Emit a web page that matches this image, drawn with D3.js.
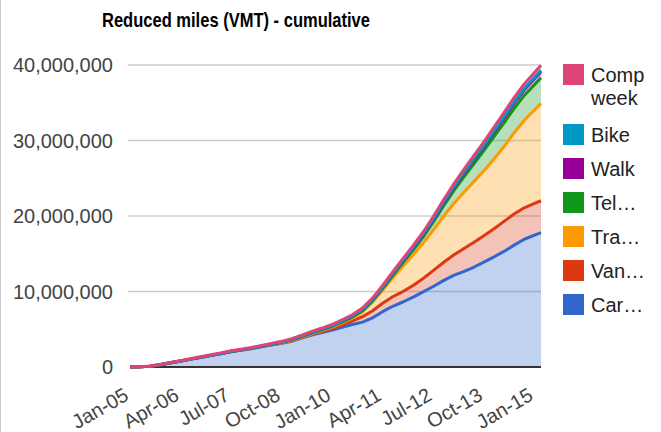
<!DOCTYPE html>
<html>
<head>
<meta charset="utf-8">
<script src="https://cdn.jsdelivr.net/npm/d3@7"></script>
<style>
  body { margin: 0; background: #fff; }
  svg { display: block; }
  text { font-family: Arial, "Liberation Sans", Helvetica, sans-serif; }
</style>
</head>
<body>
<svg id="chart" width="661" height="432"></svg>
<script>
// Quarterly cumulative reduced vehicle miles, Jan-05 .. Mar-15
const periods = [
  "Jan-05","Apr-05","Jul-05","Oct-05","Jan-06","Apr-06","Jul-06","Oct-06",
  "Jan-07","Apr-07","Jul-07","Oct-07","Jan-08","Apr-08","Jul-08","Oct-08",
  "Jan-09","Apr-09","Jul-09","Oct-09","Jan-10","Apr-10","Jul-10","Oct-10",
  "Jan-11","Apr-11","Jul-11","Oct-11","Jan-12","Apr-12","Jul-12","Oct-12",
  "Jan-13","Apr-13","Jul-13","Oct-13","Jan-14","Apr-14","Jul-14","Oct-14",
  "Jan-15","Mar-15"
];

// values in millions of miles
const carpool = [0, 0.02, 0.11, 0.29, 0.54, 0.77, 1.02, 1.26, 1.51, 1.76, 2.01, 2.22, 2.43, 2.67, 2.90,
  3.14, 3.42, 3.82, 4.23, 4.56, 4.88, 5.26, 5.62, 5.94, 6.51, 7.33, 8.04, 8.61, 9.26, 9.96, 10.66,
  11.44, 12.14, 12.63, 13.21, 13.9, 14.59, 15.31, 16.14, 16.92, 17.47, 17.8];
const vanpool = [0, 0, 0, 0.01, 0.01, 0.02, 0.02, 0.02, 0.03, 0.03, 0.03, 0.04, 0.04, 0.04, 0.05,
  0.05, 0.06, 0.07, 0.09, 0.13, 0.22, 0.32, 0.45, 0.72, 0.94, 1.12, 1.26, 1.38, 1.53, 1.76, 2.1,
  2.4, 2.69, 3.04, 3.29, 3.49, 3.72, 3.98, 4.12, 4.17, 4.2, 4.22];
const transit = [0, 0, 0, 0, 0, 0, 0, 0, 0, 0, 0.01, 0.01, 0.02, 0.02, 0.03,
  0.03, 0.04, 0.05, 0.085, 0.13, 0.18, 0.27, 0.4, 0.64, 1.15, 1.7, 2.47, 3.35, 4.08, 4.71, 5.36,
  6.09, 6.79, 7.42, 8.02, 8.6, 9.25, 9.91, 10.74, 11.59, 12.37, 12.9];
const telework = [0, 0, 0, 0, 0, 0, 0, 0, 0, 0, 0, 0, 0, 0.01, 0.03,
  0.05, 0.08, 0.09, 0.1, 0.11, 0.12, 0.13, 0.14, 0.16, 0.19, 0.25, 0.35, 0.49, 0.62, 0.8, 1.05,
  1.37, 1.7, 2.03, 2.36, 2.66, 2.95, 3.14, 3.23, 3.29, 3.35, 3.39];
const walk = [0, 0, 0, 0, 0, 0, 0, 0, 0, 0, 0, 0, 0.01, 0.01, 0.02,
  0.02, 0.03, 0.04, 0.05, 0.06, 0.07, 0.08, 0.1, 0.11, 0.13, 0.15, 0.18, 0.21, 0.24, 0.28, 0.32,
  0.37, 0.41, 0.46, 0.51, 0.56, 0.61, 0.66, 0.7, 0.74, 0.78, 0.8];
const bike = [0, 0, 0, 0, 0, 0, 0, 0, 0, 0, 0, 0, 0, 0, 0,
  0, 0.01, 0.01, 0.02, 0.02, 0.02, 0.03, 0.03, 0.04, 0.04, 0.05, 0.06, 0.06, 0.07, 0.08, 0.09,
  0.1, 0.11, 0.12, 0.13, 0.14, 0.15, 0.16, 0.17, 0.18, 0.19, 0.2];
const compWeek = [0, 0.01, 0.02, 0.03, 0.04, 0.05, 0.06, 0.07, 0.08, 0.08, 0.09, 0.09, 0.09, 0.1, 0.1,
  0.11, 0.12, 0.13, 0.14, 0.15, 0.16, 0.17, 0.18, 0.19, 0.2, 0.21, 0.23, 0.25, 0.27, 0.29, 0.31,
  0.34, 0.37, 0.4, 0.43, 0.46, 0.49, 0.53, 0.57, 0.61, 0.65, 0.66];

const seriesKeys   = ["car", "van", "transit", "telework", "walk", "bike", "comp"];
const seriesLabels = [["Car…"], ["Van…"], ["Tra…"], ["Tel…"], ["Walk"], ["Bike"], ["Comp", "week"]];
const seriesColors = ["#3366cc", "#dc3912", "#ff9900", "#109618", "#990099", "#0099c6", "#dd4477"];
const seriesValues = [carpool, vanpool, transit, telework, walk, bike, compWeek];

const xTickLabels = ["Jan-05","Apr-06","Jul-07","Oct-08","Jan-10","Apr-11","Jul-12","Oct-13","Jan-15"];
const yTicks = [0, 10000000, 20000000, 30000000, 40000000];

const parse = d3.timeParse("%b-%y");
const rows = periods.map((p, i) => {
  const r = { date: parse(p) };
  seriesKeys.forEach((k, j) => { r[k] = seriesValues[j][i] * 1e6; });
  return r;
});

const svg = d3.select("#chart");
const plot = { left: 130, right: 541, top: 65, bottom: 367 };

const x = d3.scaleTime()
  .domain([parse(periods[0]), parse(periods[periods.length - 1])])
  .range([plot.left, plot.right]);
const y = d3.scaleLinear().domain([0, 40000000]).range([plot.bottom, plot.top]);

// thin frame on the left edge
svg.append("line").attr("x1", 0.5).attr("x2", 0.5).attr("y1", 0).attr("y2", 432)
  .attr("stroke", "#cccccc").attr("stroke-width", 1);

// title
svg.append("text")
  .attr("x", 102).attr("y", 27)
  .attr("font-size", 21).attr("font-weight", "bold").attr("fill", "#000")
  .attr("textLength", 268).attr("lengthAdjust", "spacingAndGlyphs")
  .text("Reduced miles (VMT) - cumulative");

// gridlines and y labels
const fmt = d3.format(",");
const yAxis = svg.append("g");
yAxis.selectAll("line.grid").data(yTicks.filter(d => d > 0)).join("line")
  .attr("class", "grid")
  .attr("x1", plot.left - 2).attr("x2", plot.right)
  .attr("y1", d => y(d)).attr("y2", d => y(d))
  .attr("stroke", "#cccccc").attr("stroke-width", 1.5);
yAxis.selectAll("text").data(yTicks).join("text")
  .attr("x", 113).attr("y", d => y(d)).attr("dy", "0.36em")
  .attr("text-anchor", "end").attr("font-size", 20).attr("fill", "#444")
  .text(d => fmt(d));

// stacked areas
const stack = d3.stack().keys(seriesKeys);
const layers = stack(rows);

const area = d3.area()
  .x(d => x(d.data.date)).y0(d => y(d[0])).y1(d => y(d[1]));
const line = d3.line()
  .x(d => x(d.data.date)).y(d => y(d[1]));

svg.append("g").selectAll("path").data(layers).join("path")
  .attr("d", area)
  .attr("fill", (d, i) => seriesColors[i]).attr("fill-opacity", 0.3);

// baseline
svg.append("line")
  .attr("x1", plot.left).attr("x2", plot.right)
  .attr("y1", y(0)).attr("y2", y(0))
  .attr("stroke", "#333333").attr("stroke-width", 2);

svg.append("g").selectAll("path").data(layers).join("path")
  .attr("d", line)
  .attr("fill", "none")
  .attr("stroke", (d, i) => seriesColors[i])
  .attr("stroke-width", 3)
  .attr("stroke-linejoin", "round");

// x axis labels, slanted
svg.append("g").selectAll("text").data(xTickLabels).join("text")
  .attr("transform", d => `translate(${x(parse(d))},399) rotate(-30)`)
  .attr("text-anchor", "end").attr("font-size", 20).attr("fill", "#444")
  .text(d => d);

// legend (top series first)
const legend = svg.append("g");
const order = d3.range(seriesKeys.length).reverse();
const legendTop = [64, 124, 158, 192, 226, 260, 294];
order.forEach((si, k) => {
  const ty = legendTop[k];
  legend.append("rect")
    .attr("x", 563).attr("y", ty).attr("width", 21).attr("height", 21)
    .attr("fill", seriesColors[si]);
  seriesLabels[si].forEach((ln, li) => {
    legend.append("text")
      .attr("x", 591).attr("y", ty + 18 + li * 23)
      .attr("font-size", 20).attr("fill", "#222")
      .text(ln);
  });
});
</script>
</body>
</html>
